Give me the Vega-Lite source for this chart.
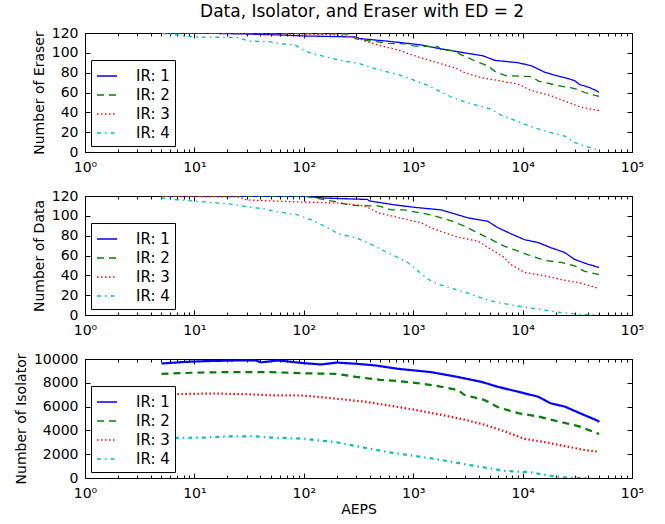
{
  "$schema": "https://vega.github.io/schema/vega-lite/v6.json",
  "background": "white",
  "padding": {"left": 13, "top": 2, "right": 5, "bottom": 5},
  "title": {"text": "Data, Isolator, and Eraser with ED = 2", "fontSize": 17, "font": "DejaVu Sans", "fontWeight": "normal", "color": "black", "offset": 5, "anchor": "middle", "dx": 33},
  "spacing": 44,
  "bounds": "flush",
  "datasets": {
    "eraser": [
      {"ir":"IR: 1","x":5,"v":120},{"ir":"IR: 1","x":10,"v":120},{"ir":"IR: 1","x":30,"v":119},{"ir":"IR: 1","x":60,"v":118},{"ir":"IR: 1","x":100,"v":117},{"ir":"IR: 1","x":300,"v":116},{"ir":"IR: 1","x":320,"v":114.5},{"ir":"IR: 1","x":680,"v":111},{"ir":"IR: 1","x":1180,"v":108},{"ir":"IR: 1","x":1690,"v":104.5},{"ir":"IR: 1","x":2950,"v":100},{"ir":"IR: 1","x":4350,"v":97},{"ir":"IR: 1","x":5540,"v":92.5},{"ir":"IR: 1","x":9100,"v":90},{"ir":"IR: 1","x":12000,"v":87},{"ir":"IR: 1","x":15900,"v":80.5},{"ir":"IR: 1","x":19600,"v":77.5},{"ir":"IR: 1","x":24300,"v":75},{"ir":"IR: 1","x":29900,"v":72},{"ir":"IR: 1","x":33200,"v":68},{"ir":"IR: 1","x":40900,"v":65},{"ir":"IR: 1","x":47000,"v":62},{"ir":"IR: 1","x":50000,"v":60},
      {"ir":"IR: 2","x":5,"v":120},{"ir":"IR: 2","x":50,"v":120},{"ir":"IR: 2","x":100,"v":119.5},{"ir":"IR: 2","x":250,"v":119},{"ir":"IR: 2","x":300,"v":114},{"ir":"IR: 2","x":590,"v":109.5},{"ir":"IR: 2","x":900,"v":109},{"ir":"IR: 2","x":1000,"v":107},{"ir":"IR: 2","x":1700,"v":106},{"ir":"IR: 2","x":1800,"v":103},{"ir":"IR: 2","x":2400,"v":102},{"ir":"IR: 2","x":2700,"v":98.5},{"ir":"IR: 2","x":3650,"v":92},{"ir":"IR: 2","x":4800,"v":87},{"ir":"IR: 2","x":5700,"v":80.5},{"ir":"IR: 2","x":7000,"v":77},{"ir":"IR: 2","x":12000,"v":76},{"ir":"IR: 2","x":14000,"v":71.5},{"ir":"IR: 2","x":21000,"v":67},{"ir":"IR: 2","x":30000,"v":64},{"ir":"IR: 2","x":37000,"v":60},{"ir":"IR: 2","x":46000,"v":57},{"ir":"IR: 2","x":50000,"v":56},
      {"ir":"IR: 3","x":5,"v":120},{"ir":"IR: 3","x":100,"v":119},{"ir":"IR: 3","x":200,"v":118},{"ir":"IR: 3","x":300,"v":116},{"ir":"IR: 3","x":360,"v":112},{"ir":"IR: 3","x":510,"v":107},{"ir":"IR: 3","x":720,"v":103},{"ir":"IR: 3","x":890,"v":99.5},{"ir":"IR: 3","x":1260,"v":94},{"ir":"IR: 3","x":1790,"v":89},{"ir":"IR: 3","x":2400,"v":85},{"ir":"IR: 3","x":2950,"v":80},{"ir":"IR: 3","x":4200,"v":75},{"ir":"IR: 3","x":5960,"v":72},{"ir":"IR: 3","x":9100,"v":68.5},{"ir":"IR: 3","x":12000,"v":62},{"ir":"IR: 3","x":18000,"v":57},{"ir":"IR: 3","x":26000,"v":50},{"ir":"IR: 3","x":34500,"v":45},{"ir":"IR: 3","x":49000,"v":42},{"ir":"IR: 3","x":50000,"v":42},
      {"ir":"IR: 4","x":5,"v":120},{"ir":"IR: 4","x":7,"v":118},{"ir":"IR: 4","x":10,"v":116},{"ir":"IR: 4","x":25,"v":115.5},{"ir":"IR: 4","x":31,"v":112},{"ir":"IR: 4","x":50,"v":111},{"ir":"IR: 4","x":62,"v":109},{"ir":"IR: 4","x":83,"v":108},{"ir":"IR: 4","x":94,"v":104},{"ir":"IR: 4","x":117,"v":99.5},{"ir":"IR: 4","x":166,"v":95.5},{"ir":"IR: 4","x":220,"v":92},{"ir":"IR: 4","x":315,"v":89.5},{"ir":"IR: 4","x":415,"v":85},{"ir":"IR: 4","x":590,"v":80.5},{"ir":"IR: 4","x":780,"v":77},{"ir":"IR: 4","x":1040,"v":72},{"ir":"IR: 4","x":1370,"v":67},{"ir":"IR: 4","x":1800,"v":60.5},{"ir":"IR: 4","x":2230,"v":55.5},{"ir":"IR: 4","x":2950,"v":50.5},{"ir":"IR: 4","x":3900,"v":47},{"ir":"IR: 4","x":5200,"v":43},{"ir":"IR: 4","x":6400,"v":37},{"ir":"IR: 4","x":8500,"v":32},{"ir":"IR: 4","x":11000,"v":27},{"ir":"IR: 4","x":14600,"v":22.5},{"ir":"IR: 4","x":19600,"v":18.5},{"ir":"IR: 4","x":24300,"v":16},{"ir":"IR: 4","x":29900,"v":9.5},{"ir":"IR: 4","x":36900,"v":6},{"ir":"IR: 4","x":45600,"v":3},{"ir":"IR: 4","x":50000,"v":2}
    ],
    "data": [
      {"ir":"IR: 1","x":5,"v":120},{"ir":"IR: 1","x":100,"v":120},{"ir":"IR: 1","x":150,"v":118},{"ir":"IR: 1","x":380,"v":116.5},{"ir":"IR: 1","x":400,"v":115},{"ir":"IR: 1","x":680,"v":111},{"ir":"IR: 1","x":1040,"v":108.5},{"ir":"IR: 1","x":1800,"v":106},{"ir":"IR: 1","x":2560,"v":101},{"ir":"IR: 1","x":3150,"v":98},{"ir":"IR: 1","x":4800,"v":94.5},{"ir":"IR: 1","x":5960,"v":88},{"ir":"IR: 1","x":7800,"v":82},{"ir":"IR: 1","x":10400,"v":76},{"ir":"IR: 1","x":13900,"v":73},{"ir":"IR: 1","x":18000,"v":68},{"ir":"IR: 1","x":24300,"v":63},{"ir":"IR: 1","x":29900,"v":56},{"ir":"IR: 1","x":40000,"v":51},{"ir":"IR: 1","x":50000,"v":48},
      {"ir":"IR: 2","x":5,"v":120},{"ir":"IR: 2","x":100,"v":120},{"ir":"IR: 2","x":190,"v":114.5},{"ir":"IR: 2","x":270,"v":110.5},{"ir":"IR: 2","x":480,"v":110},{"ir":"IR: 2","x":630,"v":106},{"ir":"IR: 2","x":830,"v":106},{"ir":"IR: 2","x":1450,"v":101},{"ir":"IR: 2","x":2230,"v":95},{"ir":"IR: 2","x":2950,"v":89.5},{"ir":"IR: 2","x":4480,"v":79.5},{"ir":"IR: 2","x":6800,"v":69.5},{"ir":"IR: 2","x":10400,"v":62},{"ir":"IR: 2","x":15900,"v":55},{"ir":"IR: 2","x":22500,"v":53},{"ir":"IR: 2","x":29900,"v":49.5},{"ir":"IR: 2","x":36900,"v":44},{"ir":"IR: 2","x":49000,"v":41},{"ir":"IR: 2","x":50000,"v":41},
      {"ir":"IR: 3","x":5,"v":120},{"ir":"IR: 3","x":25,"v":119},{"ir":"IR: 3","x":30,"v":116},{"ir":"IR: 3","x":88,"v":114},{"ir":"IR: 3","x":200,"v":113},{"ir":"IR: 3","x":360,"v":110},{"ir":"IR: 3","x":480,"v":103},{"ir":"IR: 3","x":720,"v":98.5},{"ir":"IR: 3","x":1180,"v":93},{"ir":"IR: 3","x":1450,"v":88},{"ir":"IR: 3","x":1940,"v":83},{"ir":"IR: 3","x":2560,"v":78.5},{"ir":"IR: 3","x":3900,"v":74.5},{"ir":"IR: 3","x":5200,"v":66},{"ir":"IR: 3","x":6800,"v":58},{"ir":"IR: 3","x":7800,"v":51},{"ir":"IR: 3","x":10400,"v":43},{"ir":"IR: 3","x":15900,"v":39.5},{"ir":"IR: 3","x":24300,"v":35},{"ir":"IR: 3","x":33000,"v":32.5},{"ir":"IR: 3","x":49000,"v":27},{"ir":"IR: 3","x":50000,"v":27},
      {"ir":"IR: 4","x":5,"v":118},{"ir":"IR: 4","x":6.6,"v":116.5},{"ir":"IR: 4","x":12.5,"v":114},{"ir":"IR: 4","x":21,"v":112},{"ir":"IR: 4","x":31,"v":109},{"ir":"IR: 4","x":44,"v":107},{"ir":"IR: 4","x":58,"v":104},{"ir":"IR: 4","x":77,"v":102},{"ir":"IR: 4","x":88,"v":101},{"ir":"IR: 4","x":117,"v":96},{"ir":"IR: 4","x":155,"v":89.5},{"ir":"IR: 4","x":206,"v":82},{"ir":"IR: 4","x":295,"v":78},{"ir":"IR: 4","x":385,"v":73},{"ir":"IR: 4","x":510,"v":66},{"ir":"IR: 4","x":680,"v":59.5},{"ir":"IR: 4","x":890,"v":53},{"ir":"IR: 4","x":1100,"v":44.5},{"ir":"IR: 4","x":1370,"v":36},{"ir":"IR: 4","x":1690,"v":31},{"ir":"IR: 4","x":2400,"v":26},{"ir":"IR: 4","x":3400,"v":21},{"ir":"IR: 4","x":4480,"v":16},{"ir":"IR: 4","x":5960,"v":12.5},{"ir":"IR: 4","x":8500,"v":9.5},{"ir":"IR: 4","x":12000,"v":7},{"ir":"IR: 4","x":18000,"v":4},{"ir":"IR: 4","x":24300,"v":2},{"ir":"IR: 4","x":34500,"v":0.5},{"ir":"IR: 4","x":50000,"v":0}
    ],
    "iso": [
      {"ir":"IR: 1","x":5,"v":9620},{"ir":"IR: 1","x":8,"v":9750},{"ir":"IR: 1","x":12.5,"v":9820},{"ir":"IR: 1","x":25,"v":9880},{"ir":"IR: 1","x":36,"v":9880},{"ir":"IR: 1","x":41,"v":9720},{"ir":"IR: 1","x":58,"v":9880},{"ir":"IR: 1","x":100,"v":9650},{"ir":"IR: 1","x":144,"v":9540},{"ir":"IR: 1","x":200,"v":9700},{"ir":"IR: 1","x":300,"v":9600},{"ir":"IR: 1","x":450,"v":9460},{"ir":"IR: 1","x":720,"v":9180},{"ir":"IR: 1","x":1450,"v":8900},{"ir":"IR: 1","x":2560,"v":8490},{"ir":"IR: 1","x":4200,"v":8080},{"ir":"IR: 1","x":5960,"v":7660},{"ir":"IR: 1","x":9100,"v":7250},{"ir":"IR: 1","x":13900,"v":6830},{"ir":"IR: 1","x":18000,"v":6280},{"ir":"IR: 1","x":24300,"v":6000},{"ir":"IR: 1","x":34500,"v":5390},{"ir":"IR: 1","x":49000,"v":4800},{"ir":"IR: 1","x":50000,"v":4700},
      {"ir":"IR: 2","x":5,"v":8750},{"ir":"IR: 2","x":10,"v":8850},{"ir":"IR: 2","x":20,"v":8900},{"ir":"IR: 2","x":50,"v":8900},{"ir":"IR: 2","x":70,"v":8850},{"ir":"IR: 2","x":100,"v":8800},{"ir":"IR: 2","x":200,"v":8750},{"ir":"IR: 2","x":300,"v":8500},{"ir":"IR: 2","x":500,"v":8250},{"ir":"IR: 2","x":720,"v":8150},{"ir":"IR: 2","x":1040,"v":8000},{"ir":"IR: 2","x":1690,"v":7720},{"ir":"IR: 2","x":2560,"v":7390},{"ir":"IR: 2","x":2950,"v":6970},{"ir":"IR: 2","x":4480,"v":6560},{"ir":"IR: 2","x":5960,"v":5950},{"ir":"IR: 2","x":9100,"v":5450},{"ir":"IR: 2","x":13900,"v":5170},{"ir":"IR: 2","x":21000,"v":4760},{"ir":"IR: 2","x":33000,"v":4340},{"ir":"IR: 2","x":49000,"v":3730},{"ir":"IR: 2","x":50000,"v":3700},
      {"ir":"IR: 3","x":5,"v":6950},{"ir":"IR: 3","x":7,"v":7050},{"ir":"IR: 3","x":15,"v":7100},{"ir":"IR: 3","x":29,"v":7050},{"ir":"IR: 3","x":50,"v":6950},{"ir":"IR: 3","x":100,"v":6930},{"ir":"IR: 3","x":160,"v":6750},{"ir":"IR: 3","x":360,"v":6420},{"ir":"IR: 3","x":630,"v":6060},{"ir":"IR: 3","x":1040,"v":5730},{"ir":"IR: 3","x":1800,"v":5310},{"ir":"IR: 3","x":2950,"v":4900},{"ir":"IR: 3","x":4480,"v":4480},{"ir":"IR: 3","x":6800,"v":3930},{"ir":"IR: 3","x":10400,"v":3290},{"ir":"IR: 3","x":15900,"v":3020},{"ir":"IR: 3","x":24300,"v":2680},{"ir":"IR: 3","x":36900,"v":2350},{"ir":"IR: 3","x":49000,"v":2210},{"ir":"IR: 3","x":50000,"v":2200},
      {"ir":"IR: 4","x":5,"v":3150},{"ir":"IR: 4","x":7,"v":3370},{"ir":"IR: 4","x":12.5,"v":3400},{"ir":"IR: 4","x":20,"v":3500},{"ir":"IR: 4","x":36,"v":3500},{"ir":"IR: 4","x":50,"v":3400},{"ir":"IR: 4","x":100,"v":3300},{"ir":"IR: 4","x":200,"v":3000},{"ir":"IR: 4","x":360,"v":2540},{"ir":"IR: 4","x":630,"v":2130},{"ir":"IR: 4","x":1040,"v":1850},{"ir":"IR: 4","x":1800,"v":1520},{"ir":"IR: 4","x":2950,"v":1160},{"ir":"IR: 4","x":4480,"v":885},{"ir":"IR: 4","x":6800,"v":610},{"ir":"IR: 4","x":12000,"v":470},{"ir":"IR: 4","x":18000,"v":190},{"ir":"IR: 4","x":24300,"v":55},{"ir":"IR: 4","x":30000,"v":0},{"ir":"IR: 4","x":40000,"v":0}
    ]
  },
  "vconcat": [
    {
      "width": 547, "height": 119,
      "data": {"name": "eraser"},
      "layer": [
        {
          "mark": {"type": "line", "strokeWidth": 1.3, "clip": true},
          "encoding": {
            "x": {"field": "x", "type": "quantitative", "title": null,
              "scale": {"type": "log", "domain": [1, 100000], "nice": false},
              "axis": {"values": [1,2,3,4,5,6,7,8,9,10,20,30,40,50,60,70,80,90,100,200,300,400,500,600,700,800,900,1000,2000,3000,4000,5000,6000,7000,8000,9000,10000,20000,30000,40000,50000,60000,70000,80000,90000,100000],
                "labelExpr": "abs(log(datum.value)/LN10 - round(log(datum.value)/LN10)) < 0.001 ? '10' + ['⁰','¹','²','³','⁴','⁵'][round(log(datum.value)/LN10)] : ''",
                "labelFlush": false, "labelOverlap": false, "labelPadding": 13,
                "tickSize": {"condition": {"test": "abs(log(datum.value)/LN10 - round(log(datum.value)/LN10)) < 0.001", "value": -5}, "value": -3}}},
            "y": {"field": "v", "type": "quantitative", "title": "Number of Eraser",
              "scale": {"domain": [0, 120], "nice": false, "zero": false},
              "axis": {"values": [0,20,40,60,80,100,120]}},
            "color": {"field": "ir", "type": "nominal", "legend": {"title": null},
              "scale": {"domain": ["IR: 1","IR: 2","IR: 3","IR: 4"], "range": ["#0000ff","#008000","#ff0000","#00bfbf"]}},
            "strokeDash": {"field": "ir", "type": "nominal", "legend": {"title": null},
              "scale": {"domain": ["IR: 1","IR: 2","IR: 3","IR: 4"], "range": [[1,0],[7,5],[1.5,2.5],[4,4,1.5,4]]}}
          }
        },
        {
          "mark": {"type": "point", "opacity": 0},
          "encoding": {
            "x": {"field": "x", "type": "quantitative",
              "axis": {"orient": "top", "labels": false, "title": null, "values": [1,2,3,4,5,6,7,8,9,10,20,30,40,50,60,70,80,90,100,200,300,400,500,600,700,800,900,1000,2000,3000,4000,5000,6000,7000,8000,9000,10000,20000,30000,40000,50000,60000,70000,80000,90000,100000],
                "tickSize": {"condition": {"test": "abs(log(datum.value)/LN10 - round(log(datum.value)/LN10)) < 0.001", "value": -5}, "value": -3}}},
            "y": {"field": "v", "type": "quantitative",
              "axis": {"orient": "right", "labels": false, "title": null, "values": [0,20,40,60,80,100,120]}}
          }
        }
      ],
      "resolve": {"axis": {"x": "independent", "y": "independent"}}
    },
    {
      "width": 547, "height": 119,
      "data": {"name": "data"},
      "layer": [
        {
          "mark": {"type": "line", "strokeWidth": 1.3, "clip": true},
          "encoding": {
            "x": {"field": "x", "type": "quantitative", "title": null,
              "scale": {"type": "log", "domain": [1, 100000], "nice": false},
              "axis": {"values": [1,2,3,4,5,6,7,8,9,10,20,30,40,50,60,70,80,90,100,200,300,400,500,600,700,800,900,1000,2000,3000,4000,5000,6000,7000,8000,9000,10000,20000,30000,40000,50000,60000,70000,80000,90000,100000],
                "labelExpr": "abs(log(datum.value)/LN10 - round(log(datum.value)/LN10)) < 0.001 ? '10' + ['⁰','¹','²','³','⁴','⁵'][round(log(datum.value)/LN10)] : ''",
                "labelFlush": false, "labelOverlap": false, "labelPadding": 13,
                "tickSize": {"condition": {"test": "abs(log(datum.value)/LN10 - round(log(datum.value)/LN10)) < 0.001", "value": -5}, "value": -3}}},
            "y": {"field": "v", "type": "quantitative", "title": "Number of Data",
              "scale": {"domain": [0, 120], "nice": false, "zero": false},
              "axis": {"values": [0,20,40,60,80,100,120]}},
            "color": {"field": "ir", "type": "nominal", "legend": {"title": null},
              "scale": {"domain": ["IR: 1","IR: 2","IR: 3","IR: 4"], "range": ["#0000ff","#008000","#ff0000","#00bfbf"]}},
            "strokeDash": {"field": "ir", "type": "nominal", "legend": {"title": null},
              "scale": {"domain": ["IR: 1","IR: 2","IR: 3","IR: 4"], "range": [[1,0],[7,5],[1.5,2.5],[4,4,1.5,4]]}}
          }
        },
        {
          "mark": {"type": "point", "opacity": 0},
          "encoding": {
            "x": {"field": "x", "type": "quantitative",
              "axis": {"orient": "top", "labels": false, "title": null, "values": [1,2,3,4,5,6,7,8,9,10,20,30,40,50,60,70,80,90,100,200,300,400,500,600,700,800,900,1000,2000,3000,4000,5000,6000,7000,8000,9000,10000,20000,30000,40000,50000,60000,70000,80000,90000,100000],
                "tickSize": {"condition": {"test": "abs(log(datum.value)/LN10 - round(log(datum.value)/LN10)) < 0.001", "value": -5}, "value": -3}}},
            "y": {"field": "v", "type": "quantitative",
              "axis": {"orient": "right", "labels": false, "title": null, "values": [0,20,40,60,80,100,120]}}
          }
        }
      ],
      "resolve": {"axis": {"x": "independent", "y": "independent"}}
    },
    {
      "width": 547, "height": 119,
      "data": {"name": "iso"},
      "layer": [
        {
          "mark": {"type": "line", "strokeWidth": 2.2, "clip": true},
          "encoding": {
            "x": {"field": "x", "type": "quantitative", "title": "AEPS",
              "scale": {"type": "log", "domain": [1, 100000], "nice": false},
              "axis": {"values": [1,2,3,4,5,6,7,8,9,10,20,30,40,50,60,70,80,90,100,200,300,400,500,600,700,800,900,1000,2000,3000,4000,5000,6000,7000,8000,9000,10000,20000,30000,40000,50000,60000,70000,80000,90000,100000],
                "labelExpr": "abs(log(datum.value)/LN10 - round(log(datum.value)/LN10)) < 0.001 ? '10' + ['⁰','¹','²','³','⁴','⁵'][round(log(datum.value)/LN10)] : ''",
                "labelFlush": false, "labelOverlap": false, "labelPadding": 13, "titlePadding": 0,
                "tickSize": {"condition": {"test": "abs(log(datum.value)/LN10 - round(log(datum.value)/LN10)) < 0.001", "value": -5}, "value": -3}}},
            "y": {"field": "v", "type": "quantitative", "title": "Number of Isolator",
              "scale": {"domain": [0, 10000], "nice": false, "zero": false},
              "axis": {"values": [0,2000,4000,6000,8000,10000], "format": "d"}},
            "color": {"field": "ir", "type": "nominal", "legend": {"title": null},
              "scale": {"domain": ["IR: 1","IR: 2","IR: 3","IR: 4"], "range": ["#0000ff","#008000","#ff0000","#00bfbf"]}},
            "strokeDash": {"field": "ir", "type": "nominal", "legend": {"title": null},
              "scale": {"domain": ["IR: 1","IR: 2","IR: 3","IR: 4"], "range": [[1,0],[7,5],[1.5,2.5],[4,4,1.5,4]]}}
          }
        },
        {
          "mark": {"type": "point", "opacity": 0},
          "encoding": {
            "x": {"field": "x", "type": "quantitative",
              "axis": {"orient": "top", "labels": false, "title": null, "values": [1,2,3,4,5,6,7,8,9,10,20,30,40,50,60,70,80,90,100,200,300,400,500,600,700,800,900,1000,2000,3000,4000,5000,6000,7000,8000,9000,10000,20000,30000,40000,50000,60000,70000,80000,90000,100000],
                "tickSize": {"condition": {"test": "abs(log(datum.value)/LN10 - round(log(datum.value)/LN10)) < 0.001", "value": -5}, "value": -3}}},
            "y": {"field": "v", "type": "quantitative",
              "axis": {"orient": "right", "labels": false, "title": null, "values": [0,2000,4000,6000,8000,10000]}}
          }
        }
      ],
      "resolve": {"axis": {"x": "independent", "y": "independent"}}
    }
  ],
  "resolve": {"legend": {"color": "independent", "strokeDash": "independent"}},
  "config": {
    "view": {"stroke": "black", "strokeWidth": 1},
    "axis": {"domain": false, "grid": false, "labelFont": "DejaVu Sans", "labelFontSize": 14, "labelColor": "black",
      "titleFont": "DejaVu Sans", "titleFontSize": 14, "titleFontWeight": "normal", "titleColor": "black",
      "tickColor": "black", "tickWidth": 1, "tickSize": -5, "labelPadding": 12, "titlePadding": 5},
    "legend": {"orient": "bottom-left", "offset": 6, "strokeColor": "black", "fillColor": "white", "padding": 5,
      "symbolType": "stroke", "symbolSize": 400, "symbolStrokeWidth": 1.5, "labelFont": "DejaVu Sans", "labelFontSize": 15,
      "labelColor": "black", "rowPadding": 0, "labelOffset": 18, "cornerRadius": 0}
  }
}
